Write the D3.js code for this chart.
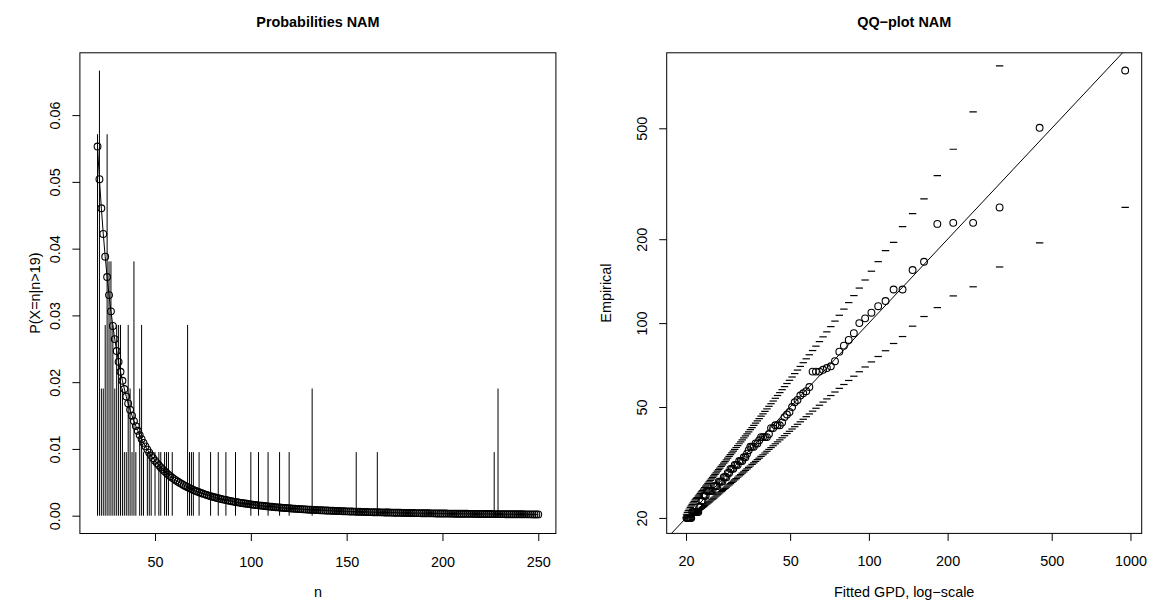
<!DOCTYPE html>
<html>
<head>
<meta charset="utf-8">
<script src="https://cdn.jsdelivr.net/npm/d3@7"></script>
<style>
  html, body { margin: 0; padding: 0; background: #ffffff; }
  svg { display: block; font-family: "Liberation Sans", Arial, Helvetica, sans-serif; }
</style>
</head>
<body>
<svg id="chart" width="1150" height="610"></svg>
<script>
// ---------------------------------------------------------------
// Observed sizes above the threshold (n > 19): value and frequency
// ---------------------------------------------------------------
const sampleN = [20, 21, 22, 23, 24, 25, 26, 27, 28, 29, 30, 31, 32, 33, 34, 35, 36, 37, 38, 39, 40,
  42, 43, 44, 46, 47, 48, 50, 52, 53, 55, 56, 57, 59, 67, 68, 69, 70, 73, 79, 83, 87, 92,
  100, 104, 109, 115, 120, 132, 155, 166, 227, 229, 260, 502, 806];
const sampleCount = [6, 7, 2, 2, 3, 6, 4, 4, 3, 2, 3, 3, 3, 2, 1, 1, 3, 2, 1, 4, 1,
  2, 3, 1, 1, 1, 1, 1, 1, 1, 1, 1, 1, 1, 3, 1, 1, 1, 1, 1, 1, 1, 1,
  1, 1, 1, 1, 1, 2, 1, 1, 1, 2, 1, 1, 1];

// Fitted (discretised GPD) probabilities P(X = n | n > 19), n = 20 ... 250
const fittedFirstN = 20;
const fittedProb = [
  0.0553, 0.0504, 0.04605, 0.04220, 0.03879, 0.03575, 0.03304, 0.03061, 0.02842, 0.02645,
  0.02466, 0.02304, 0.02156, 0.02021, 0.01898, 0.01785, 0.01681, 0.01586, 0.01498, 0.01417,
  0.01342, 0.01272, 0.01207, 0.01147, 0.01091, 0.01039, 0.00990, 0.00944, 0.00901, 0.00861,
  0.00824, 0.00788, 0.00755, 0.00723, 0.00694, 0.00666, 0.00640, 0.00615, 0.00591, 0.00569,
  0.00548, 0.00528, 0.00509, 0.00491, 0.00474, 0.00457, 0.00442, 0.00427, 0.00413, 0.00399,
  0.00386, 0.00374, 0.00362, 0.00351, 0.00340, 0.00330, 0.00320, 0.00310, 0.00301, 0.00293,
  0.00284, 0.00276, 0.00269, 0.00261, 0.00254, 0.00247, 0.00241, 0.00234, 0.00228, 0.00222,
  0.00217, 0.00211, 0.00206, 0.00201, 0.00196, 0.00191, 0.00187, 0.00182, 0.00178, 0.00174,
  0.00170, 0.001656, 0.001619, 0.001583, 0.001548, 0.001514, 0.001481, 0.001449, 0.001418, 0.001388,
  0.001359, 0.001330, 0.001303, 0.001276, 0.001250, 0.001225, 0.001200, 0.001177, 0.001153, 0.001131,
  0.001105, 0.001084, 0.001063, 0.001043, 0.001024, 0.001005, 0.000986, 0.000968, 0.000950, 0.000933,
  0.000916, 0.000900, 0.000884, 0.000868, 0.000853, 0.000838, 0.000824, 0.000810, 0.000796, 0.000783,
  0.000768, 0.000755, 0.000742, 0.000730, 0.000718, 0.000707, 0.000695, 0.000684, 0.000673, 0.000663,
  0.000652, 0.000642, 0.000632, 0.000622, 0.000613, 0.000604, 0.000595, 0.000586, 0.000577, 0.000568,
  0.000559, 0.000550, 0.000542, 0.000535, 0.000527, 0.000519, 0.000512, 0.000505, 0.000498, 0.000491,
  0.000484, 0.000477, 0.000471, 0.000464, 0.000458, 0.000452, 0.000446, 0.000440, 0.000434, 0.000428,
  0.000422, 0.000416, 0.000411, 0.000405, 0.000400, 0.000395, 0.000390, 0.000385, 0.000380, 0.000375,
  0.000371, 0.000366, 0.000362, 0.000357, 0.000353, 0.000348, 0.000344, 0.000340, 0.000336, 0.000332,
  0.000328, 0.000324, 0.000320, 0.000316, 0.000312, 0.000309, 0.000305, 0.000302, 0.000298, 0.000295,
  0.000292, 0.000288, 0.000285, 0.000282, 0.000279, 0.000276, 0.000273, 0.000270, 0.000267, 0.000264,
  0.000260, 0.000258, 0.000255, 0.000252, 0.000249, 0.000247, 0.000244, 0.000242, 0.000239, 0.000237,
  0.000234, 0.000232, 0.000229, 0.000227, 0.000225, 0.000222, 0.000220, 0.000218, 0.000216, 0.000214,
  0.000211, 0.000209, 0.000207, 0.000205, 0.000203, 0.000201, 0.000199, 0.000197, 0.000195, 0.000193,
  0.000192
];

// QQ-plot: fitted GPD quantiles for the 105 ordered observations
const gpdQuantile = [
  20.08, 20.25, 20.42, 20.59, 20.77, 20.94, 21.12, 21.31, 21.50, 21.69,
  21.88, 22.08, 22.28, 22.48, 22.69, 22.90, 23.12, 23.34, 23.56, 23.79,
  24.03, 24.27, 24.51, 24.76, 25.01, 25.27, 25.53, 25.80, 26.08, 26.36,
  26.65, 26.94, 27.25, 27.56, 27.87, 28.20, 28.53, 28.87, 29.22, 29.57,
  29.94, 30.32, 30.70, 31.10, 31.51, 31.93, 32.36, 32.80, 33.26, 33.73,
  34.22, 34.72, 35.23, 35.77, 36.32, 36.89, 37.48, 38.09, 38.72, 39.38,
  40.06, 40.76, 41.50, 42.26, 43.06, 43.89, 44.75, 45.66, 46.60, 47.59,
  48.63, 49.72, 50.86, 52.07, 53.34, 54.69, 56.11, 57.62, 59.22, 60.93,
  62.76, 64.72, 66.82, 69.08, 71.53, 74.19, 77.09, 80.26, 83.75, 87.62,
  91.93, 96.77, 102.26, 108.53, 115.79, 124.32, 134.51, 146.93, 162.48, 182.67,
  210.15, 250.30, 316.02, 449.47, 954.6
];
// Pointwise envelope (upper and lower) for each ordered observation
const bandUpper = [
  20.62, 20.95, 21.24, 21.53, 21.81, 22.09, 22.37, 22.65, 22.93, 23.21,
  23.50, 23.66, 23.93, 24.21, 24.50, 24.79, 25.08, 25.38, 25.68, 25.99,
  26.30, 26.62, 26.95, 27.28, 27.62, 27.96, 28.32, 28.68, 29.04, 29.42,
  29.81, 30.20, 30.60, 31.02, 31.44, 31.87, 32.32, 32.78, 33.25, 33.73,
  34.22, 34.73, 35.25, 35.79, 36.35, 36.92, 37.51, 38.11, 38.74, 39.39,
  40.05, 40.74, 41.46, 42.20, 42.96, 43.76, 44.58, 45.44, 46.34, 47.26,
  48.23, 49.24, 50.29, 51.38, 52.53, 53.73, 54.99, 56.31, 57.71, 59.17,
  60.71, 62.34, 64.07, 65.90, 67.84, 69.91, 72.11, 74.47, 77.00, 79.72,
  82.66, 85.83, 89.27, 93.03, 97.15, 101.67, 106.68, 112.26, 118.49, 125.54,
  133.58, 142.79, 153.54, 166.17, 182.0, 195.0, 222.0, 247.0, 279.0, 338.0,
  420.6, 573.0, 838.0, 1558, 7290
];
const bandLower = [
  20.00, 20.04, 20.10, 20.18, 20.27, 20.36, 20.47, 20.58, 20.69, 20.81,
  20.93, 21.09, 21.22, 21.37, 21.51, 21.66, 21.81, 21.97, 22.13, 22.30,
  22.47, 22.64, 22.82, 23.00, 23.19, 23.38, 23.57, 23.77, 23.97, 24.18,
  24.40, 24.62, 24.84, 25.07, 25.30, 25.54, 25.79, 26.04, 26.30, 26.56,
  26.84, 27.11, 27.40, 27.69, 27.99, 28.30, 28.62, 28.95, 29.28, 29.63,
  29.98, 30.35, 30.72, 31.11, 31.51, 31.92, 32.35, 32.79, 33.24, 33.71,
  34.19, 34.69, 35.22, 35.76, 36.31, 36.90, 37.50, 38.12, 38.78, 39.46,
  40.17, 40.91, 41.69, 42.50, 43.35, 44.25, 45.19, 46.17, 47.22, 48.32,
  49.49, 50.74, 52.07, 53.47, 54.98, 56.60, 58.34, 60.22, 62.26, 64.49,
  66.92, 69.60, 72.57, 75.89, 79.6, 84.5, 89.5, 97.5, 105.6, 113.7,
  125.2, 135.0, 159.0, 194.0, 260.0
];

// Tick values
const probTicks = [0, 0.01, 0.02, 0.03, 0.04, 0.05, 0.06];
const nTicks = [50, 100, 150, 200, 250];
const qqXTicks = [20, 50, 100, 200, 500, 1000];
const qqYTicks = [20, 50, 100, 200, 500];

// ---------------------------------------------------------------
const svg = d3.select("#chart");
const FS = 14.4;       // axis text size
const TFS = 14.4;      // title size
const TICK = 7.5;
const PT_R = 3.4;      // open-circle radius
const PT_W = 1.1;      // open-circle stroke

// 4% padding on each side of a range
const pad = (lo, hi) => { const r = hi - lo; return [lo - 0.04 * r, hi + 0.04 * r]; };

// ------------------- Left panel: probabilities -------------------
const L = { x0: 79.9, x1: 555.9, y0: 52.8, y1: 533.5 };
const total = d3.sum(sampleCount);
const bars = sampleN.map((n, i) => ({ n: n, p: sampleCount[i] / total })).filter(d => d.n <= 250);
const fitted = fittedProb.map((p, i) => ({ n: fittedFirstN + i, p: p }));

const xL = d3.scaleLinear()
  .domain(pad(d3.min(fitted, d => d.n), d3.max(fitted, d => d.n)))
  .range([L.x0, L.x1]);
const yL = d3.scaleLinear()
  .domain(pad(0, d3.max(bars, d => d.p)))
  .range([L.y1, L.y0]);

svg.append("clipPath").attr("id", "clipL")
  .append("rect").attr("x", L.x0).attr("y", L.y0)
  .attr("width", L.x1 - L.x0).attr("height", L.y1 - L.y0);

const gL = svg.append("g").attr("clip-path", "url(#clipL)");

// observed relative frequencies as vertical lines
gL.selectAll("line.bar").data(bars).enter().append("line")
  .attr("class", "bar")
  .attr("x1", d => xL(d.n)).attr("x2", d => xL(d.n))
  .attr("y1", yL(0)).attr("y2", d => yL(d.p))
  .attr("stroke", "#000").attr("stroke-width", 1);

// fitted probabilities: connecting line and open circles
gL.append("path").datum(fitted)
  .attr("fill", "none").attr("stroke", "#000").attr("stroke-width", 1)
  .attr("d", d3.line().x(d => xL(d.n)).y(d => yL(d.p)));
gL.selectAll("circle.fit").data(fitted).enter().append("circle")
  .attr("class", "fit")
  .attr("cx", d => xL(d.n)).attr("cy", d => yL(d.p)).attr("r", PT_R)
  .attr("fill", "none").attr("stroke", "#000").attr("stroke-width", PT_W);

svg.append("rect").attr("x", L.x0).attr("y", L.y0)
  .attr("width", L.x1 - L.x0).attr("height", L.y1 - L.y0)
  .attr("fill", "none").attr("stroke", "#000").attr("stroke-width", 1);

// axes
const axLx = svg.append("g").attr("transform", `translate(0,${L.y1})`)
  .call(d3.axisBottom(xL).tickValues(nTicks).tickSize(TICK).tickSizeOuter(0).tickFormat(d3.format("d")));
const axLy = svg.append("g").attr("transform", `translate(${L.x0},0)`)
  .call(d3.axisLeft(yL).tickValues(probTicks).tickSize(TICK).tickSizeOuter(0).tickFormat(d3.format(".2f")));

// ------------------- Right panel: QQ-plot -------------------
const R = { x0: 666.7, x1: 1141.7, y0: 52.8, y1: 533.4 };
const empirical = sampleN.flatMap((n, i) => Array(sampleCount[i]).fill(n));
const qq = gpdQuantile.map((q, i) => ({ q: q, e: empirical[i], lo: bandLower[i], hi: bandUpper[i] }));

const xR = d3.scaleLog().domain([16.87, 1104]).range([R.x0, R.x1]);
const yR = d3.scaleLog().domain([17.6, 933]).range([R.y1, R.y0]);

svg.append("clipPath").attr("id", "clipR")
  .append("rect").attr("x", R.x0).attr("y", R.y0)
  .attr("width", R.x1 - R.x0).attr("height", R.y1 - R.y0);
const gR = svg.append("g").attr("clip-path", "url(#clipR)");

// envelope marks
const dash = 3.7;
gR.selectAll("path.hi").data(qq).enter().append("path")
  .attr("class", "hi")
  .attr("d", d => `M${xR(d.q) - dash},${yR(d.hi)}h${2 * dash}`)
  .attr("stroke", "#000").attr("stroke-width", 1.2);
gR.selectAll("path.lo").data(qq).enter().append("path")
  .attr("class", "lo")
  .attr("d", d => `M${xR(d.q) - dash},${yR(d.lo)}h${2 * dash}`)
  .attr("stroke", "#000").attr("stroke-width", 1.2);

// reference line y = x
gR.append("line")
  .attr("x1", xR(xR.domain()[0])).attr("y1", yR(xR.domain()[0]))
  .attr("x2", xR(xR.domain()[1])).attr("y2", yR(xR.domain()[1]))
  .attr("stroke", "#000").attr("stroke-width", 1);

gR.selectAll("circle.qq").data(qq).enter().append("circle")
  .attr("class", "qq")
  .attr("cx", d => xR(d.q)).attr("cy", d => yR(d.e)).attr("r", PT_R)
  .attr("fill", "none").attr("stroke", "#000").attr("stroke-width", PT_W);

svg.append("rect").attr("x", R.x0).attr("y", R.y0)
  .attr("width", R.x1 - R.x0).attr("height", R.y1 - R.y0)
  .attr("fill", "none").attr("stroke", "#000").attr("stroke-width", 1);

const axRx = svg.append("g").attr("transform", `translate(0,${R.y1})`)
  .call(d3.axisBottom(xR).tickValues(qqXTicks).tickSize(TICK).tickSizeOuter(0).tickFormat(d3.format("d")));
const axRy = svg.append("g").attr("transform", `translate(${R.x0},0)`)
  .call(d3.axisLeft(yR).tickValues(qqYTicks).tickSize(TICK).tickSizeOuter(0).tickFormat(d3.format("d")));

// ------------------- axis styling -------------------
[axLx, axLy, axRx, axRy].forEach(ax => {
  ax.select(".domain").remove();
  ax.selectAll(".tick line").attr("stroke", "#000").attr("stroke-width", 1);
  ax.selectAll(".tick text").attr("fill", "#000")
    .style("font-size", FS + "px").style("font-family", "'Liberation Sans', Arial, sans-serif");
});
// bottom labels: baseline below the ticks
[axLx, axRx].forEach(ax => {
  ax.selectAll(".tick text").attr("y", 33).attr("dy", 0);
});
// left labels: rotated, reading upwards
[axLy, axRy].forEach(ax => {
  ax.selectAll(".tick text")
    .attr("x", 0).attr("y", -20).attr("dy", 0)
    .attr("text-anchor", "middle")
    .attr("transform", "rotate(-90)");
});

// ------------------- titles and axis labels -------------------
const txt = (x, y, s, opts = {}) => {
  const t = svg.append("text").attr("x", x).attr("y", y).text(s)
    .attr("text-anchor", "middle").attr("fill", "#000")
    .style("font-size", (opts.size || FS) + "px");
  if (opts.bold) t.style("font-weight", "bold");
  if (opts.rotate) t.attr("transform", `rotate(-90,${x},${y})`);
  return t;
};
txt((L.x0 + L.x1) / 2, 27, "Probabilities NAM", { bold: true, size: TFS });
txt((R.x0 + R.x1) / 2, 27, "QQ\u2212plot NAM", { bold: true, size: TFS });
txt((L.x0 + L.x1) / 2, 597, "n");
txt((R.x0 + R.x1) / 2, 597, "Fitted GPD, log\u2212scale");
txt(40, (L.y0 + L.y1) / 2, "P(X=n|n>19)", { rotate: true });
txt(611, (R.y0 + R.y1) / 2, "Empirical", { rotate: true });
</script>
</body>
</html>
